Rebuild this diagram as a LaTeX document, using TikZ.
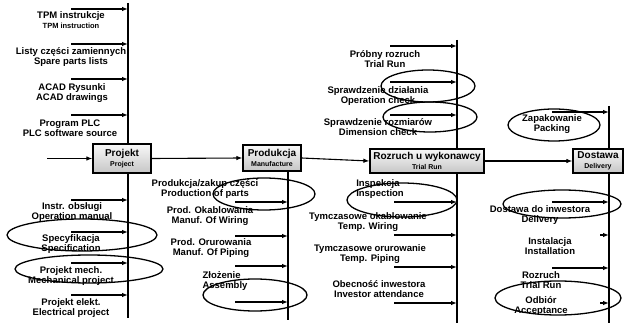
\documentclass[tikz,border=0pt]{standalone}
\usepackage{fontspec}
\setmainfont{Liberation Sans}
\usetikzlibrary{arrows.meta, positioning}

\tikzset{
  stage/.style={draw, line width=1.2pt, top color=gray!5, bottom color=gray!45,
    align=center, inner sep=1pt, font=\fontsize{10}{10.5}\selectfont\bfseries},
  lbl/.style={align=center, inner sep=0pt, font=\fontsize{9.5}{10.5}\selectfont\bfseries},
  arr/.style={-{Latex[length=6pt,width=4.5pt]}, line width=1.1pt},
  axis/.style={line width=1.1pt},
  ring/.style={line width=1.3pt}
}
\newcommand{\engl}[1]{{\fontsize{7}{8}\selectfont #1}}

\begin{document}
\begin{tikzpicture}[x=1pt, y=-1pt]
  \useasboundingbox (0,0) rectangle (624,323);

  \node[stage, minimum width=58pt, minimum height=29pt] (proj) at (122,158.5) {Projekt\\\engl{Project}};
  \node[stage, minimum width=58pt, minimum height=26pt] (prod) at (272,158) {Produkcja\\\engl{Manufacture}};
  \node[stage, minimum width=114pt, minimum height=24pt] (rozr) at (427,161) {Rozruch u wykonawcy\\\engl{Trial Run}};
  \node[stage, minimum width=50pt, minimum height=24pt] (dost) at (598,161) {Dostawa\\\engl{Delivery}};

  \coordinate (start) at (47,158.5);
  \draw[arr] (start) -- (proj.west);
  \draw[arr] (proj.east) -- (prod.west);
  \draw[arr] (prod.east) -- (rozr.west);
  \draw[arr] (rozr.east) -- (dost.west);

  \coordinate (pvt) at (128,3);
  \coordinate (pvb) at (128,318);
  \coordinate (mvb) at (288,320);
  \coordinate (rvt) at (457,40);
  \coordinate (rvb) at (457,323);
  \coordinate (dvt) at (609,106);
  \coordinate (dvb) at (609,323);
  \draw[axis] (pvt) -- (pvt |- proj.north);
  \draw[axis] (pvb |- proj.south) -- (pvb);
  \draw[axis] (mvb |- prod.south) -- (mvb);
  \draw[axis] (rvt) -- (rvt |- rozr.north);
  \draw[axis] (rvb |- rozr.south) -- (rvb);
  \draw[axis] (dvt) -- (dvt |- dost.north);
  \draw[axis] (dvb |- dost.south) -- (dvb);

  \foreach \y in {9,44,79,115,200,232,263,295}
    \draw[arr] (71,\y) -- (71,\y -| pvt);
  \foreach \y in {202,236,266,302}
    \draw[arr] (235,\y) -- (235,\y -| mvb);
  \foreach \y in {46,82,115}
    \draw[arr] (390,\y) -- (390,\y -| rvt);
  \foreach \y in {202,235,267,303}
    \draw[arr] (394,\y) -- (394,\y -| rvb);
  \foreach \x/\y in {552/112,552/202,600/235,552/268,600/303}
    \draw[arr] (\x,\y) -- (\x,\y -| dvb);

  \node[lbl] (tpm) at (71,20) {TPM instrukcje\\{\fontsize{7.5}{8.5}\selectfont TPM instruction}};
  \node[lbl] (listy) at (71,57) {Listy części zamiennych\\Spare parts lists};
  \node[lbl] (acad) at (72,93) {ACAD Rysunki\\ACAD drawings};
  \node[lbl] (plc) at (70,128) {Program PLC\\PLC software source};
  \node[lbl] (obsl) at (72,212) {Instr. obsługi\\Operation manual};
  \node[lbl] (spec) at (71,244) {Specyfikacja\\Specification};
  \node[lbl] (mech) at (71,276) {Projekt mech.\\Mechanical project};
  \node[lbl] (elekt) at (71,308) {Projekt elekt.\\Electrical project};

  \node[lbl] (zakup) at (205,189) {Produkcja/zakup części\\Production of parts};
  \node[lbl] (okabl) at (210,216) {Prod. Okablowania\\Manuf. Of Wiring};
  \node[lbl] (orur) at (211,248) {Prod. Orurowania\\Manuf. Of Piping};
  \node[lbl, align=left] (zloz) at (225,281) {Złożenie\\Assembly};

  \node[lbl] (probny) at (385,59) {Próbny rozruch\\Trial Run};
  \node[lbl] (dzial) at (378,96) {Sprawdzenie działania\\Operation check};
  \node[lbl] (rozm) at (378,127) {Sprawdzenie rozmiarów\\Dimension check};
  \node[lbl, align=left] (insp) at (380,189) {Inspekcja\\Inspection};
  \node[lbl] (tokabl) at (368,222) {Tymczasowe okablowanie\\Temp. Wiring};
  \node[lbl] (torur) at (370,254) {Tymczasowe orurowanie\\Temp. Piping};
  \node[lbl] (obecn) at (379,289) {Obecność inwestora\\Investor attendance};

  \node[lbl] (pack) at (552,124) {Zapakowanie\\Packing};
  \node[lbl] (dostinw) at (540,215) {Dostawa do inwestora\\Delivery};
  \node[lbl] (inst) at (550,246) {Instalacja\\Installation};
  \node[lbl] (rozr2) at (541,280) {Rozruch\\Trial Run};
  \node[lbl] (odb) at (541,306) {Odbiór\\Acceptance};

  \draw[ring] (82,235) ellipse [x radius=75pt, y radius=16pt];
  \draw[ring] (89,269) ellipse [x radius=74pt, y radius=14pt];
  \draw[ring] (264,194) ellipse [x radius=51pt, y radius=16pt];
  \draw[ring] (255,295) ellipse [x radius=52pt, y radius=16pt];
  \draw[ring] (428,86) ellipse [x radius=47pt, y radius=16pt];
  \draw[ring] (430,117) ellipse [x radius=47pt, y radius=15pt];
  \draw[ring] (402,200) ellipse [x radius=55pt, y radius=17pt];
  \draw[ring] (554,125) ellipse [x radius=46pt, y radius=16pt];
  \draw[ring] (562,204) ellipse [x radius=59pt, y radius=14pt];
  \draw[ring] (558,298) ellipse [x radius=63pt, y radius=17pt];
\end{tikzpicture}
\end{document}
